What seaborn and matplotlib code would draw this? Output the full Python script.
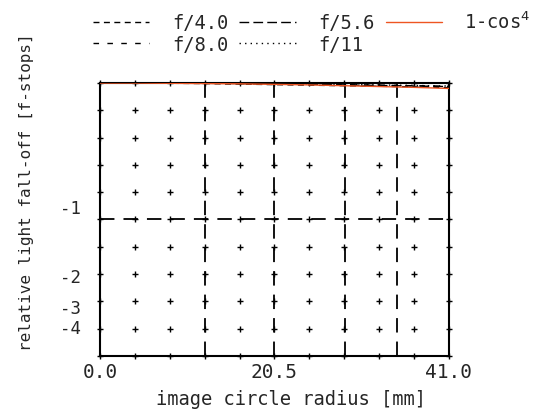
import numpy as np
import pandas as pd
import matplotlib
matplotlib.use("Agg")
import matplotlib.pyplot as plt
import matplotlib.transforms as mtransforms
import seaborn as sns

# image circle radius [mm]
radius = [0.0, 4.1, 8.2, 12.3, 16.4, 20.5, 24.6, 28.7, 32.8, 36.9, 41.0]

# relative illuminance (1 = no fall-off)
f40 = [1.0, 1.0, 0.999, 0.998, 0.996, 0.994, 0.992, 0.990, 0.988, 0.986, 0.983]
f56 = [1.0, 1.0, 0.999, 0.999, 0.998, 0.997, 0.995, 0.993, 0.991, 0.989, 0.987]
f80 = [1.0, 1.0, 1.0, 0.999, 0.998, 0.997, 0.996, 0.994, 0.992, 0.990, 0.988]
f11 = [1.0, 1.0, 1.0, 0.999, 0.999, 0.998, 0.997, 0.995, 0.993, 0.991, 0.989]
cos4 = [1.0, 1.0, 0.999, 0.998, 0.997, 0.995, 0.993, 0.990, 0.987, 0.984, 0.980]

stop_ticks = [0.5, 0.25, 0.125, 0.0625]
stop_labels = ["-1", "-2", "-3", "-4"]
stop_nudge = [0, 0, 2.5, 0]  # px, reference lifts -3 a little
x_ticks = [0.0, 20.5, 41.0]
x_labels = ["0.0", "20.5", "41.0"]
format_lines = [12.3, 20.5, 28.8, 34.9]

sns.set_style("white")
plt.rcParams["font.family"] = ["DejaVu Sans Mono", "DejaVu Sans"]

fig = plt.figure(figsize=(5.42, 4.14), dpi=100)
ax = fig.add_axes([0.1845, 0.1377, 0.6439, 0.6594])

# grid of plus marks
gx, gy = np.meshgrid(np.linspace(0, 41, 11), np.linspace(0, 1, 11))
ax.plot(gx.ravel(), gy.ravel(), linestyle="none", marker="+", color="black",
        markersize=5, markeredgewidth=1, clip_on=False, zorder=3)

for xv in format_lines:
    ax.axvline(xv, color="black", lw=1.3, linestyle=(0, (8, 5)), zorder=2)
ax.axhline(0.5, color="black", lw=1.3, linestyle=(0, (8, 5)), zorder=2)

series = [
    ("f/4.0", f40, "black", (0, (4.3, 3.2))),
    ("f/8.0", f80, "black", (0, (4, 6))),
    ("f/5.6", f56, "black", (0, (7, 3))),
    ("f/11", f11, "black", (0, (1, 3))),
    ("1-cos$^4$", cos4, "#ee5522", "-"),
]
for name, vals, col, ls in series:
    df = pd.DataFrame({"r": radius, "v": vals})
    sns.lineplot(data=df, x="r", y="v", ax=ax, color=col, linestyle=ls,
                 lw=1.0, label=name, zorder=4)

ax.set_xlim(0, 41)
ax.set_ylim(0, 1)
ax.set_xticks(x_ticks, x_labels)
ax.set_yticks([])
ax.tick_params(axis="x", length=0, pad=4, labelsize=14)
ax.set_xlabel("")
ax.set_ylabel("")
for sp in ax.spines.values():
    sp.set_color("black")
    sp.set_linewidth(1.5)

# f-stop labels sit just above their level
ytrans = mtransforms.blended_transform_factory(ax.transAxes, ax.transData)
for val, lab, dy in zip(stop_ticks, stop_labels, stop_nudge):
    tr = ytrans + mtransforms.ScaledTranslation(-19 / 100, (2 + dy) / 100,
                                                fig.dpi_scale_trans)
    ax.text(0, val, lab, transform=tr, ha="right", va="bottom", fontsize=12.5)

fig.text(291 / 542, 1 - 400 / 414, "image circle radius [mm]", ha="center",
         va="center", fontsize=13.5)
fig.text(27 / 542, 1 - 192 / 414, "relative light fall-off [f-stops]",
         ha="center", va="center", rotation=90, fontsize=11.5)

handles, labels = ax.get_legend_handles_labels()
ax.get_legend().remove()
fig.legend(handles, labels, loc="upper left", bbox_to_anchor=(0.172, 0.972),
           ncol=3, frameon=False, fontsize=13.5, handlelength=3.0,
           handletextpad=1.2, columnspacing=0.6, labelspacing=0.15,
           borderpad=0, borderaxespad=0)

fig.savefig("out.png", dpi=100)
plt.close(fig)
